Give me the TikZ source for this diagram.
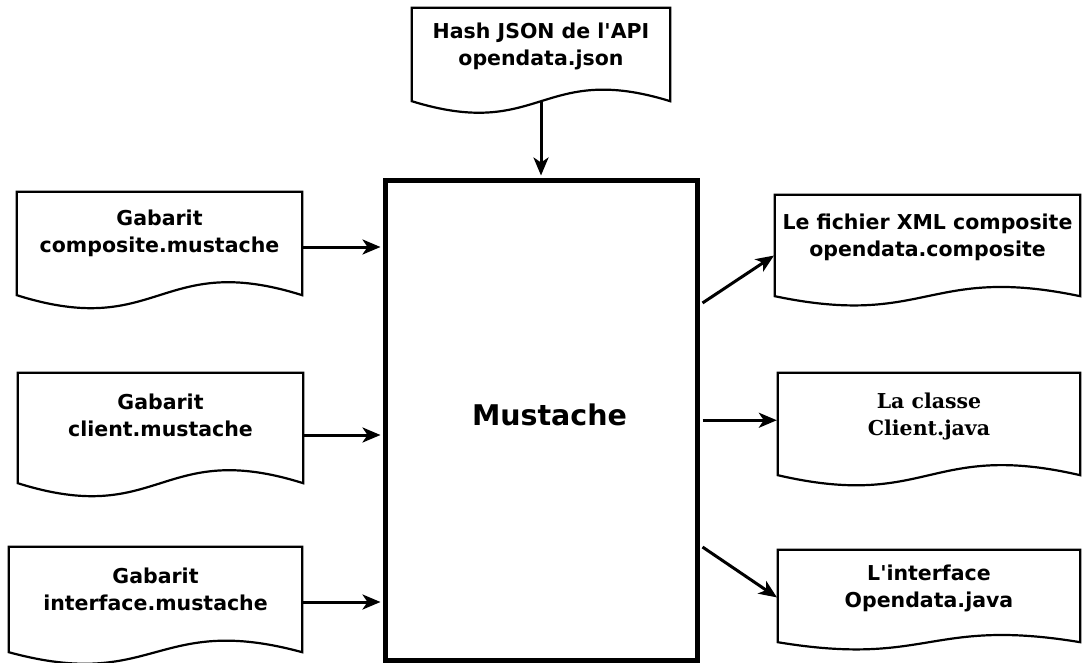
\documentclass[tikz,border=0pt]{standalone}
\usepackage{fontspec}
\setmainfont{DejaVu Sans}
\newfontfamily\dvserif{DejaVu Serif}
\usetikzlibrary{arrows.meta,calc}
\tikzset{
  docbox/.style={draw=none, rectangle, inner sep=0pt},
  doctext/.style={font=\bfseries\fontsize{20.5}{27}\selectfont, align=center, inner sep=0pt},
  docline/.style={draw=black, line width=2.2pt, line join=miter, fill=white},
  mainbox/.style={draw=black, line width=5pt, rectangle, inner sep=0pt, minimum width=312pt, minimum height=479.5pt},
  arr/.style={line width=3pt, -{Stealth[length=18pt,width=15pt,inset=5pt]}},
}
\newcommand\docoutline[2]{%
  \draw[docline] (#1.north west) -- (#1.north east) -- (#1.south east)
    .. controls ($(#1.south)+(0,-#2)$) and ($(#1.south)+(0,#2)$) .. (#1.south west) -- cycle;
}
\begin{document}
\begin{tikzpicture}[x=1pt,y=-1pt]
\useasboundingbox[fill=white] (0,0) rectangle (1086,663);

% main box
\node[mainbox, label={[font=\bfseries\fontsize{28.5}{34}\selectfont, xshift=8pt, yshift=5pt]center:Mustache}] (mus) at (541.5,420.25) {};

% top document
\node[docbox, minimum width=258pt, minimum height=93pt] (api) at (541,54.5) {};
\docoutline{api}{40}
\node[doctext] (apit) at ([yshift=8pt]api.center) {Hash JSON de l\textquotesingle API\\opendata.json};

% left documents
\node[docbox, minimum width=285pt, minimum height=103pt] (g1) at (159.5,243.5) {};
\docoutline{g1}{45}
\node[doctext] (g1t) at ([yshift=10pt]g1.center) {Gabarit\\composite.mustache};

\node[docbox, minimum width=285pt, minimum height=110pt] (g2) at (160.5,428) {};
\docoutline{g2}{45}
\node[doctext] (g2t) at ([yshift=13pt]g2.center) {Gabarit\\client.mustache};

\node[docbox, minimum width=293pt, minimum height=105pt] (g3) at (155.5,599.5) {};
\docoutline{g3}{40}
\node[doctext] (g3t) at ([yshift=10pt]g3.center) {Gabarit\\interface.mustache};

% right documents
\node[docbox, minimum width=305pt, minimum height=101pt] (oa) at (927.5,245.5) {};
\docoutline{oa}{32}
\node[doctext] (oat) at ([yshift=8pt]oa.center) {Le fichier XML composite\\opendata.composite};

\node[docbox, minimum width=302pt, minimum height=102pt] (ob) at (929,424) {};
\docoutline{ob}{35}
\node[doctext, font=\dvserif\bfseries\fontsize{20.5}{27}\selectfont] (obt) at ([yshift=8pt]ob.center) {La classe\\Client.java};

\node[docbox, minimum width=302pt, minimum height=92pt] (oc) at (929,596) {};
\docoutline{oc}{25}
\node[doctext] (oct) at ([yshift=8pt]oc.center) {L\textquotesingle interface\\Opendata.java};

% arrows in
\draw[arr, shorten >=2.5pt] (api.south) -- (api.south |- mus.north);
\draw[arr, shorten >=2.5pt] ($(g1.east)+(0,3.5)$) -- ($(g1.east -| mus.west)+(0,3.5)$);
\draw[arr, shorten >=2.5pt] ($(g2.east)+(0,7)$) -- ($(g2.east -| mus.west)+(0,7)$);
\draw[arr, shorten >=2.5pt] ($(g3.east)+(0,2.5)$) -- ($(g3.east -| mus.west)+(0,2.5)$);

% arrows out
\draw[arr, shorten >=1pt] ($(mus.east)+(2.5,-117.25)$) -- ($(oa.west)+(0,9.5)$);
\draw[arr, shorten >=1pt] ($(mus.east)+(2.5,0)$) -- (mus.east -| ob.west);
\draw[arr, shorten >=1pt] ($(mus.east)+(2.5,126.75)$) -- ($(oc.west)+(0,2)$);
\end{tikzpicture}
\end{document}
